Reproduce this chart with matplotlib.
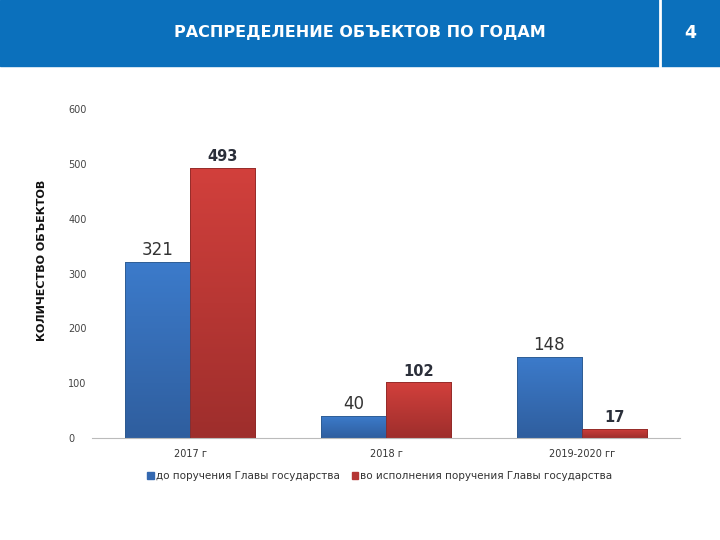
import matplotlib.pyplot as plt
import matplotlib.colors as mcolors
import numpy as np
from matplotlib.patches import Rectangle

plt.rcParams['font.family'] = ['DejaVu Sans']

categories = ["2017 г", "2018 г", "2019-2020 гг"]
before = [321, 40, 148]
after = [493, 102, 17]
series_names = ["до поручения Главы государства", "во исполнения поручения Главы государства"]
yticks = [0, 100, 200, 300, 400, 500, 600]

fig = plt.figure(figsize=(7.2, 5.4), dpi=100)

# header band
fig.patches.append(Rectangle((0, 1 - 66 / 540), 1, 66 / 540, transform=fig.transFigure,
                             color="#0B70BC", zorder=0))
fig.lines.append(plt.Line2D([660 / 720, 660 / 720], [1 - 66 / 540, 1], transform=fig.transFigure,
                            color="white", lw=2))
fig.text(360 / 720, 1 - 33 / 540, "РАСПРЕДЕЛЕНИЕ ОБЪЕКТОВ ПО ГОДАМ", color="white",
         fontsize=11.5, fontweight="bold", ha="center", va="center")
fig.text(690 / 720, 1 - 33 / 540, "4", color="white", fontsize=12.5, fontweight="bold",
         ha="center", va="center")

ax = fig.add_axes([92 / 720, 1 - 438 / 540, 588 / 720, 329 / 540])
x = np.arange(len(categories))
w = 1 / 3

def gradient_bars(bars, top, bottom):
    cmap = mcolors.LinearSegmentedColormap.from_list("g", [bottom, top])
    grad = np.linspace(0, 1, 256).reshape(-1, 1)
    for b in bars:
        x0, y0 = b.get_x(), b.get_y()
        ww, hh = b.get_width(), b.get_height()
        b.set_facecolor("none")
        im = ax.imshow(grad, extent=[x0, x0 + ww, y0, y0 + hh], origin="lower", cmap=cmap,
                       aspect="auto", zorder=2)
        im.set_clip_path(b)

b1 = ax.bar(x - w / 2, before, w, edgecolor="#2E5A8E", linewidth=0.6, zorder=3)
b2 = ax.bar(x + w / 2, after, w, edgecolor="#8E2A28", linewidth=0.6, zorder=3)
gradient_bars(b1, "#3C7BCB", "#2F5E9E")
gradient_bars(b2, "#D2403C", "#9E2E2C")

for xi, v in zip(x, before):
    ax.text(xi - w / 2, v + 5, str(v), ha="center", va="bottom", fontsize=12, color="#333333")
for xi, v in zip(x, after):
    ax.text(xi + w / 2, v + 6, str(v), ha="center", va="bottom", fontsize=10.5,
            fontweight="bold", color="#2B2F3A")

ax.set_xlim(-0.5, 2.5)
ax.set_ylim(0, 600)
ax.set_yticks(yticks)
ax.set_xticks(x)
ax.set_xticklabels(categories)
ax.tick_params(axis="y", length=0, labelsize=7, labelcolor="#444444", pad=17)
ax.tick_params(axis="x", length=0, labelsize=7, labelcolor="#333333", pad=8)
for lab in ax.get_yticklabels():
    lab.set_horizontalalignment("left")
for s in ["top", "right", "left"]:
    ax.spines[s].set_visible(False)
ax.spines["bottom"].set_color("#BBBBBB")

fig.text(42 / 720, 1 - 260 / 540, "КОЛИЧЕСТВО ОБЪЕКТОВ", rotation=90, ha="center", va="center",
         fontsize=8, fontweight="bold", color="#111111")

handles = [Rectangle((0, 0), 1, 1, color="#3468B0"), Rectangle((0, 0), 1, 1, color="#B53533")]
fig.legend(handles, series_names, loc="center", bbox_to_anchor=(380 / 720, 1 - 476 / 540),
           ncol=2, frameon=False, fontsize=7.5, handlelength=0.6, handleheight=0.6,
           handletextpad=0.2, columnspacing=1.2, labelcolor="#333333")

fig.savefig("out.png", dpi=100)
